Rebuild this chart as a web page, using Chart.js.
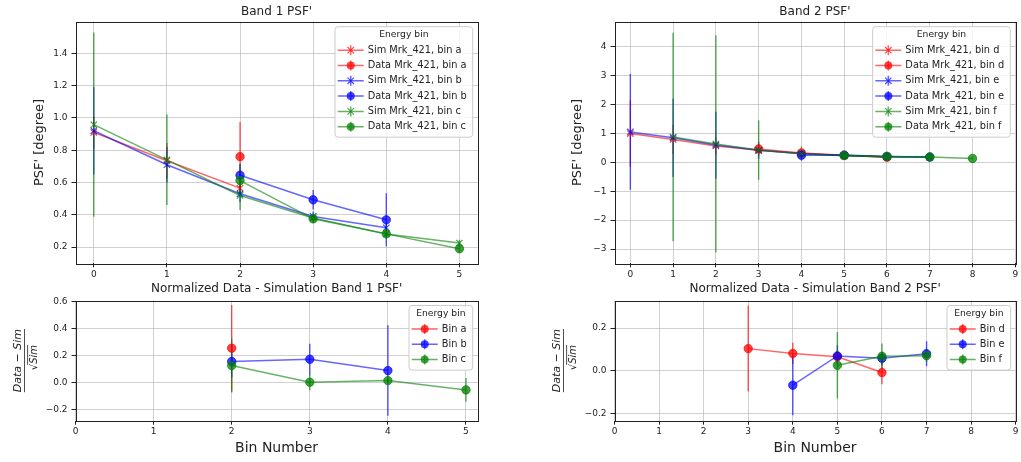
<!DOCTYPE html>
<html>
<head>
<meta charset="utf-8">
<script src="https://cdn.jsdelivr.net/npm/chart.js@4/dist/chart.umd.min.js"></script>
<style>
html, body { margin: 0; padding: 0; background: #fff; }
body { width: 1021px; height: 462px; position: relative; overflow: hidden; }
canvas { position: absolute; }
</style>
</head>
<body>
<canvas id="band1" width="510" height="280" style="left:0px;top:0px"></canvas>
<canvas id="band2" width="511" height="280" style="left:510px;top:0px"></canvas>
<canvas id="res1" width="510" height="182" style="left:0px;top:280px"></canvas>
<canvas id="res2" width="511" height="182" style="left:510px;top:280px"></canvas>
<script>
// ---- Band 1 PSF' ----
const simA_x = [0, 1, 2];
const simA_y = [0.91, 0.735, 0.565];
const simA_err = [0.1, 0.11, 0.03];
const dataA_x = [2];
const dataA_y = [0.76];
const dataA_err = [0.215];
const simB_x = [0, 1, 2, 3, 4];
const simB_y = [0.92, 0.71, 0.53, 0.39, 0.32];
const simB_err = [0.27, 0.11, 0.05, 0.03, 0.03];
const dataB_x = [2, 3, 4];
const dataB_y = [0.645, 0.493, 0.369];
const dataB_err = [0.07, 0.06, 0.165];
const simC_x = [0, 1, 2, 3, 4, 5];
const simC_y = [0.958, 0.74, 0.52, 0.38, 0.282, 0.225];
const simC_err = [0.57, 0.28, 0.09, 0.03, 0.02, 0.02];
const dataC_x = [2, 3, 4, 5];
const dataC_y = [0.612, 0.375, 0.282, 0.19];
const dataC_err = [0.1, 0.02, 0.02, 0.02];

// ---- Band 2 PSF' ----
const simD_x = [0, 1, 2, 3, 4, 5, 6];
const simD_y = [0.99, 0.78, 0.56, 0.41, 0.31, 0.23, 0.18];
const simD_err = [1.15, 0.5, 0.3, 0.2, 0.1, 0.05, 0.04];
const dataD_x = [3, 4, 5, 6];
const dataD_y = [0.46, 0.32, 0.24, 0.17];
const dataD_err = [0.15, 0.05, 0.04, 0.03];
const simE_x = [0, 1, 2, 3, 4, 5, 6, 7];
const simE_y = [1.045, 0.84, 0.59, 0.41, 0.29, 0.23, 0.19, 0.17];
const simE_err = [2.0, 1.35, 1.15, 0.3, 0.1, 0.05, 0.04, 0.03];
const dataE_x = [4, 5, 6, 7];
const dataE_y = [0.24, 0.245, 0.2, 0.18];
const dataE_err = [0.06, 0.04, 0.03, 0.03];
const simF_x = [1, 2, 3, 4, 5, 6, 7];
const simF_y = [0.87, 0.63, 0.42, 0.29, 0.22, 0.19, 0.17];
const simF_err = [3.6, 3.75, 1.03, 0.25, 0.06, 0.04, 0.03];
const dataF_x = [5, 6, 7, 8];
const dataF_y = [0.23, 0.2, 0.18, 0.13];
const dataF_err = [0.04, 0.03, 0.03, 0.03];

// ---- Normalized Data - Simulation ----
const resA_x = [2];
const resA_y = [0.257];
const resA_err = [0.32];
const resB_x = [2, 3, 4];
const resB_y = [0.158, 0.175, 0.091];
const resB_err = [0.12, 0.115, 0.335];
const resC_x = [2, 3, 4, 5];
const resC_y = [0.128, 0.005, 0.017, -0.052];
const resC_err = [0.2, 0.06, 0.02, 0.088];
const resD_x = [3, 4, 5, 6];
const resD_y = [0.104, 0.081, 0.066, -0.008];
const resD_err = [0.2, 0.05, 0.03, 0.055];
const resE_x = [4, 5, 6, 7];
const resE_y = [-0.067, 0.07, 0.059, 0.08];
const resE_err = [0.14, 0.05, 0.03, 0.058];
const resF_x = [5, 6, 7];
const resF_y = [0.026, 0.068, 0.071];
const resF_err = [0.155, 0.06, 0.03];

// ---- ticks ----
const band1Yticks = [0.2, 0.4, 0.6, 0.8, 1.0, 1.2, 1.4];
const band1Ylabels = ['0.2', '0.4', '0.6', '0.8', '1.0', '1.2', '1.4'];
const band1Xticks = [0, 1, 2, 3, 4, 5];
const band2Yticks = [-3, -2, -1, 0, 1, 2, 3, 4];
const band2Ylabels = ['\u22123', '\u22122', '\u22121', '0', '1', '2', '3', '4'];
const band2Xticks = [0, 1, 2, 3, 4, 5, 6, 7, 8, 9];
const res1Yticks = [-0.2, 0, 0.2, 0.4, 0.6];
const res1Ylabels = ['\u22120.2', '0.0', '0.2', '0.4', '0.6'];
const res1Xticks = [0, 1, 2, 3, 4, 5];
const res2Yticks = [-0.2, 0, 0.2];
const res2Ylabels = ['\u22120.2', '0.0', '0.2'];
const res2Xticks = [0, 1, 2, 3, 4, 5, 6, 7, 8, 9];

const FONT = '"DejaVu Sans", sans-serif';
Chart.defaults.font.family = FONT;
const RED = '255,0,0', BLUE = '0,0,255', GREEN = '0,128,0';

function series(label, xs, ys, errs, rgb, marker, n) {
  return {
    label: label,
    data: xs.map((x, i) => ({ x: x, y: ys[i] })),
    err: errs,
    rgb: rgb,
    marker: marker,
    order: 100 - n,
    borderColor: 'rgba(' + rgb + ',0.6)',
    borderWidth: 1.5,
    pointStyle: marker === 'x' ? 'crossRot' : 'circle',
    pointRadius: marker === 'x' ? 4.5 : 4.2,
    pointBorderWidth: marker === 'x' ? 1.2 : 1,
    pointBorderColor: 'rgba(' + rgb + ',0.7)',
    pointBackgroundColor: 'rgba(' + rgb + ',0.75)',
    fill: false,
    tension: 0
  };
}

// vertical error bars, drawn with the chart's own scales
const errorBars = {
  id: 'errorBars',
  beforeDatasetsDraw(chart) {
    const { ctx, chartArea: a, scales: { x, y } } = chart;
    ctx.save();
    ctx.beginPath();
    ctx.rect(a.left, a.top, a.right - a.left, a.bottom - a.top);
    ctx.clip();
    chart.data.datasets.forEach(ds => {
      ctx.strokeStyle = 'rgba(' + ds.rgb + ',0.65)';
      ctx.lineWidth = 1.4;
      ds.data.forEach((p, i) => {
        const e = ds.err[i];
        if (!e) return;
        const px = x.getPixelForValue(p.x);
        ctx.beginPath();
        ctx.moveTo(px, y.getPixelForValue(p.y - e));
        ctx.lineTo(px, y.getPixelForValue(p.y + e));
        ctx.stroke();
      });
    });
    ctx.restore();
  }
};

// axes frame + matplotlib style legend inside the plot
const boxLegend = {
  id: 'boxLegend',
  afterDatasetsDraw(chart, args, opts) {
    const { ctx, chartArea: a } = chart;
    ctx.save();
    ctx.strokeStyle = '#222';
    ctx.lineWidth = 1;
    ctx.strokeRect(Math.round(a.left) + 0.5, Math.round(a.top) + 0.5,
      Math.round(a.right - a.left), Math.round(a.bottom - a.top));

    const ds = chart.data.datasets;
    ctx.font = '9.8px ' + FONT;
    const tw = Math.max(...ds.map(d => ctx.measureText(d.label).width));
    const rowH = 15.3;
    const boxW = 32.7 + tw + 6;
    const boxH = 23.5 + (ds.length - 1) * rowH + 10.5;
    const right = a.right - 5, top = a.top + 5, left = right - boxW;
    ctx.beginPath();
    ctx.roundRect(left, top, boxW, boxH, 3);
    ctx.fillStyle = 'rgba(255,255,255,0.8)';
    ctx.fill();
    ctx.strokeStyle = '#cccccc';
    ctx.stroke();

    ctx.fillStyle = '#222';
    ctx.textAlign = 'center';
    ctx.textBaseline = 'middle';
    ctx.font = '9.2px ' + FONT;
    ctx.fillText(opts.title, left + boxW / 2, top + 8.3);
    ctx.font = '9.8px ' + FONT;
    ctx.textAlign = 'left';
    ds.forEach((d, i) => {
      const yy = top + 23.5 + i * rowH;
      const cx = left + 15.7;
      ctx.strokeStyle = 'rgba(' + d.rgb + ',0.6)';
      ctx.lineWidth = 1.5;
      ctx.beginPath();
      ctx.moveTo(left + 2.7, yy);
      ctx.lineTo(left + 28.7, yy);
      ctx.moveTo(cx, yy - 5);
      ctx.lineTo(cx, yy + 5);
      ctx.stroke();
      if (d.marker === 'x') {
        ctx.strokeStyle = 'rgba(' + d.rgb + ',0.7)';
        ctx.lineWidth = 1.2;
        ctx.beginPath();
        ctx.moveTo(cx - 3.2, yy - 3.2); ctx.lineTo(cx + 3.2, yy + 3.2);
        ctx.moveTo(cx - 3.2, yy + 3.2); ctx.lineTo(cx + 3.2, yy - 3.2);
        ctx.stroke();
      } else {
        ctx.fillStyle = 'rgba(' + d.rgb + ',0.75)';
        ctx.beginPath();
        ctx.arc(cx, yy, 4, 0, Math.PI * 2);
        ctx.fill();
      }
      ctx.fillStyle = '#222';
      ctx.fillText(d.label, left + 32.7, yy);
    });
    ctx.restore();
  }
};

// (Data - Sim) / sqrt(Sim) as a rotated fraction
const fracLabel = {
  id: 'fracLabel',
  afterDraw(chart, args, opts) {
    if (!opts.show) return;
    const { ctx, chartArea: a } = chart;
    ctx.save();
    ctx.translate(a.left - 51.5, (a.top + a.bottom) / 2);
    ctx.rotate(-Math.PI / 2);
    ctx.fillStyle = '#222';
    ctx.strokeStyle = '#222';
    ctx.textBaseline = 'alphabetic';
    const it = 'italic 11px ' + FONT, up = '11px ' + FONT;
    const parts = [['Data', it], [' \u2212 ', up], ['Sim', it]];
    let w = 0;
    parts.forEach(p => { ctx.font = p[1]; w += ctx.measureText(p[0]).width; });
    let x0 = -w / 2;
    parts.forEach(p => { ctx.font = p[1]; ctx.fillText(p[0], x0, -3); x0 += ctx.measureText(p[0]).width; });
    ctx.lineWidth = 0.8;
    ctx.beginPath();
    ctx.moveTo(-w / 2, 0.5); ctx.lineTo(w / 2, 0.5);
    ctx.stroke();
    const it2 = 'italic 10px ' + FONT, up2 = '10px ' + FONT;
    ctx.font = up2;
    const rw = ctx.measureText('\u221A').width;
    ctx.font = it2;
    const sw = ctx.measureText('Sim').width;
    const d0 = -(rw + sw) / 2 + 3;
    ctx.font = up2;
    ctx.fillText('\u221A', d0, 12.5);
    ctx.font = it2;
    ctx.fillText('Sim', d0 + rw, 13);
    ctx.beginPath();
    ctx.moveTo(d0 + rw - 1, 3.6); ctx.lineTo(d0 + rw + sw, 3.6);
    ctx.stroke();
    ctx.restore();
  }
};

function makeChart(id, c) {
  const tickFont = { size: 9, family: FONT };
  return new Chart(document.getElementById(id), {
    type: 'line',
    data: { datasets: c.datasets },
    options: {
      responsive: false,
      animation: false,
      events: [],
      layout: { padding: c.pad },
      plugins: {
        legend: { display: false },
        tooltip: { enabled: false },
        title: {
          display: true, text: c.title, fullSize: false, color: '#222',
          font: { size: 12, weight: 'normal', family: FONT },
          padding: c.titlePad
        },
        boxLegend: { title: 'Energy bin' },
        fracLabel: { show: c.frac }
      },
      scales: {
        x: {
          type: 'linear', min: c.xmin, max: c.xmax,
          afterBuildTicks: s => { s.ticks = c.xticks.map(v => ({ value: v })); },
          afterFit: s => { s.height = c.xh; },
          grid: { color: 'rgba(176,176,176,0.6)', lineWidth: 1, drawTicks: true, tickLength: 4, tickColor: '#222' },
          border: { display: false },
          ticks: { color: '#222', font: tickFont, padding: 2, maxRotation: 0, autoSkip: false,
            callback: (v, i) => String(c.xticks[i]) },
          title: c.xtitle ? { display: true, text: c.xtitle, color: '#222',
            font: { size: 14, family: FONT }, padding: 0 } : { display: false }
        },
        y: {
          type: 'linear', min: c.ymin, max: c.ymax,
          afterBuildTicks: s => { s.ticks = c.yticks.map(v => ({ value: v })); },
          afterFit: s => { s.width = c.yw; },
          grid: { color: 'rgba(176,176,176,0.6)', lineWidth: 1, drawTicks: true, tickLength: 4, tickColor: '#222' },
          border: { display: false },
          ticks: { color: '#222', font: tickFont, padding: 4, autoSkip: false,
            callback: (v, i) => c.ylabels[i] },
          title: c.ytitle ? { display: true, text: c.ytitle, color: '#222',
            font: { size: 13, family: FONT }, padding: 0 } : { display: false }
        }
      }
    },
    plugins: [errorBars, boxLegend, fracLabel]
  });
}

makeChart('band1', {
  title: "Band 1 PSF'", titlePad: { top: 4.3, bottom: 3.0 },
  pad: { left: 32.2, right: 32.3, top: 0, bottom: 0 },
  yw: 43.3, xh: 16.7,
  xmin: -0.25, xmax: 5.25, ymin: 0.10, ymax: 1.595,
  xticks: band1Xticks, yticks: band1Yticks, ylabels: band1Ylabels,
  ytitle: "PSF' [degree]",
  datasets: [
    series('Sim Mrk_421, bin a', simA_x, simA_y, simA_err, RED, 'x', 0),
    series('Data Mrk_421, bin a', dataA_x, dataA_y, dataA_err, RED, 'o', 1),
    series('Sim Mrk_421, bin b', simB_x, simB_y, simB_err, BLUE, 'x', 2),
    series('Data Mrk_421, bin b', dataB_x, dataB_y, dataB_err, BLUE, 'o', 3),
    series('Sim Mrk_421, bin c', simC_x, simC_y, simC_err, GREEN, 'x', 4),
    series('Data Mrk_421, bin c', dataC_x, dataC_y, dataC_err, GREEN, 'o', 5)
  ]
});

makeChart('band2', {
  title: "Band 2 PSF'", titlePad: { top: 4.3, bottom: 3.0 },
  pad: { left: 59.7, right: 5.3, top: 0, bottom: 0 },
  yw: 44.8, xh: 16.7,
  xmin: -0.37, xmax: 9, ymin: -3.49, ymax: 4.85,
  xticks: band2Xticks, yticks: band2Yticks, ylabels: band2Ylabels,
  ytitle: "PSF' [degree]",
  datasets: [
    series('Sim Mrk_421, bin d', simD_x, simD_y, simD_err, RED, 'x', 0),
    series('Data Mrk_421, bin d', dataD_x, dataD_y, dataD_err, RED, 'o', 1),
    series('Sim Mrk_421, bin e', simE_x, simE_y, simE_err, BLUE, 'x', 2),
    series('Data Mrk_421, bin e', dataE_x, dataE_y, dataE_err, BLUE, 'o', 3),
    series('Sim Mrk_421, bin f', simF_x, simF_y, simF_err, GREEN, 'x', 4),
    series('Data Mrk_421, bin f', dataF_x, dataF_y, dataF_err, GREEN, 'o', 5)
  ]
});

makeChart('res1', {
  title: "Normalized Data - Simulation Band 1 PSF'", titlePad: { top: 2.1, bottom: 4.0 },
  pad: { left: 0, right: 32.3, top: 0, bottom: 5.6 },
  yw: 75.5, xh: 35.7, frac: true,
  xmin: 0, xmax: 5.15, ymin: -0.28, ymax: 0.61,
  xticks: res1Xticks, yticks: res1Yticks, ylabels: res1Ylabels,
  xtitle: 'Bin Number',
  datasets: [
    series('Bin a', resA_x, resA_y, resA_err, RED, 'o', 0),
    series('Bin b', resB_x, resB_y, resB_err, BLUE, 'o', 1),
    series('Bin c', resC_x, resC_y, resC_err, GREEN, 'o', 2)
  ]
});

makeChart('res2', {
  title: "Normalized Data - Simulation Band 2 PSF'", titlePad: { top: 2.1, bottom: 4.0 },
  pad: { left: 0, right: 5.3, top: 0, bottom: 5.6 },
  yw: 104.5, xh: 35.7, frac: true,
  xmin: 0, xmax: 9, ymin: -0.233, ymax: 0.329,
  xticks: res2Xticks, yticks: res2Yticks, ylabels: res2Ylabels,
  xtitle: 'Bin Number',
  datasets: [
    series('Bin d', resD_x, resD_y, resD_err, RED, 'o', 0),
    series('Bin e', resE_x, resE_y, resE_err, BLUE, 'o', 1),
    series('Bin f', resF_x, resF_y, resF_err, GREEN, 'o', 2)
  ]
});
</script>
</body>
</html>
